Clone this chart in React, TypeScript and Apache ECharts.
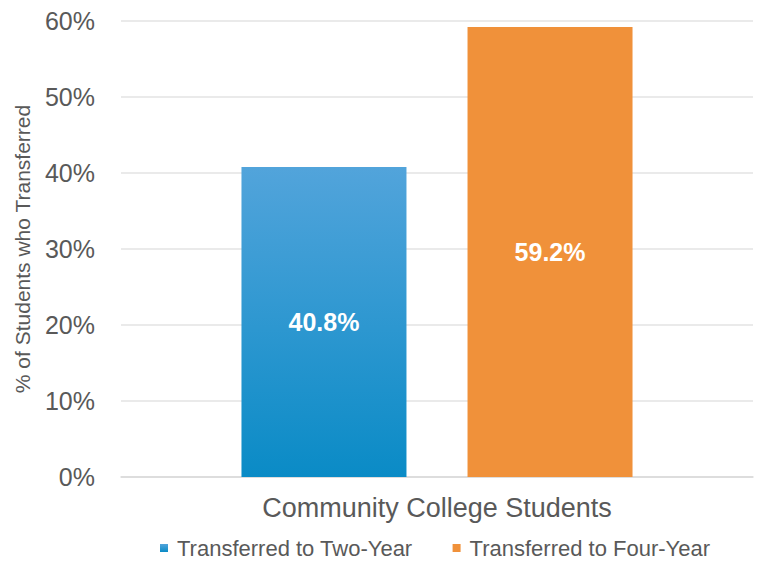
import React, { useEffect, useRef } from "react";
import * as echarts from "echarts";

const categories = ["Community College Students"];
const twoYear = [40.8];
const fourYear = [59.2];
const seriesNames = ["Transferred to Two-Year", "Transferred to Four-Year"];
const yTicks = { min: 0, max: 60, interval: 10 };

export default function App() {
  const ref = useRef<HTMLDivElement>(null);
  useEffect(() => {
    if (!ref.current) return;
    const chart = echarts.init(ref.current, null, { renderer: "svg" });
    const font = "'Liberation Sans', Arial, sans-serif";
    const barLabel = {
      show: true,
      position: "inside",
      formatter: "{c}%",
      color: "#ffffff",
      fontSize: 25,
      fontWeight: "bold",
      fontFamily: font,
    };
    chart.setOption({
      animation: false,
      textStyle: { fontFamily: font },
      grid: { left: 121, right: 7, top: 21, bottom: 88 },
      legend: {
        bottom: 1,
        left: 155,
        icon: "rect",
        itemWidth: 8,
        itemHeight: 8,
        itemGap: 40,
        textStyle: {
          color: "#595959",
          fontSize: 22,
          fontFamily: font,
          padding: [0, 0, 0, 4],
        },
        data: seriesNames,
      },
      xAxis: {
        type: "category",
        data: categories,
        axisLine: { show: true, lineStyle: { color: "#d9d9d9", width: 1.5 } },
        axisTick: { show: false },
        axisLabel: { color: "#595959", fontSize: 27, margin: 17, fontFamily: font },
      },
      yAxis: {
        type: "value",
        min: yTicks.min,
        max: yTicks.max,
        interval: yTicks.interval,
        name: "% of Students who Transferred",
        nameLocation: "middle",
        nameGap: 88,
        nameTextStyle: { color: "#595959", fontSize: 21, fontFamily: font },
        axisLabel: {
          formatter: "{value}%",
          color: "#595959",
          fontSize: 25,
          margin: 26,
          fontFamily: font,
        },
        splitLine: { lineStyle: { color: "#e3e3e3", width: 1.5 } },
        axisLine: { show: false },
        axisTick: { show: false },
      },
      series: [
        {
          name: seriesNames[0],
          type: "bar",
          data: twoYear,
          barWidth: 165,
          barGap: "37%",
          itemStyle: {
            color: new echarts.graphic.LinearGradient(0, 0, 0, 1, [
              { offset: 0, color: "#52a4db" },
              { offset: 1, color: "#0a8bc6" },
            ]),
          },
          label: barLabel,
        },
        {
          name: seriesNames[1],
          type: "bar",
          data: fourYear,
          barWidth: 165,
          barGap: "37%",
          itemStyle: { color: "#f0913a" },
          label: barLabel,
        },
      ],
    });
    return () => chart.dispose();
  }, []);
  return (
    <div
      ref={ref}
      style={{ position: "fixed", left: 0, top: 0, width: 760, height: 565, background: "#ffffff" }}
    />
  );
}
